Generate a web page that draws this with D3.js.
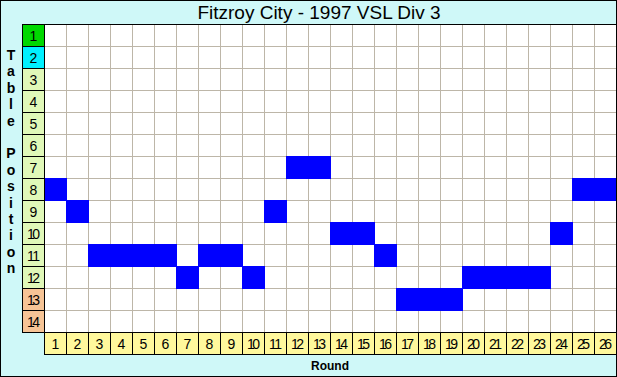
<!DOCTYPE html>
<html>
<head>
<meta charset="utf-8">
<script src="https://cdn.jsdelivr.net/npm/d3@7"></script>
<style>
  body { margin: 0; padding: 0; background: #fff; }
  svg { display: block; }
  text { font-family: "Liberation Sans", Arial, sans-serif; }
</style>
</head>
<body>
<div id="chart"></div>
<script>
// Datos del gráfico
const title = "Fitzroy City - 1997 VSL Div 3";
const rounds = d3.range(1, 27);
const positions = d3.range(1, 15);
const ladder = [8, 9, 11, 11, 11, 11, 12, 11, 11, 12, 9, 7, 7, 10, 10, 11, 13, 13, 13, 12, 12, 12, 12, 10, 8, 8];
const sideLabel = "Table Position";
const xLabel = "Round";

// Ctes de visualización
const WIDTH = 617;
const HEIGHT = 377;
const grid = { left: 44, top: 24, right: 616, bottom: 332 };
const cell = 22;

const svg = d3.select("#chart")
  .append("svg")
  .attr("width", WIDTH)
  .attr("height", HEIGHT);

// Fondo
svg.append("rect")
  .attr("x", 0.5).attr("y", 0.5)
  .attr("width", WIDTH - 1).attr("height", HEIGHT - 1)
  .attr("fill", "#cff8f8")
  .attr("stroke", "#000");

// Escalas
const xScale = d3.scaleBand().domain(rounds).range([grid.left, grid.right]);
const yScale = d3.scaleBand().domain(positions).range([grid.top, grid.bottom]);

// Área de la grilla
svg.append("rect")
  .attr("x", grid.left).attr("y", grid.top)
  .attr("width", grid.right - grid.left).attr("height", grid.bottom - grid.top)
  .attr("fill", "#fff");

// Líneas de grilla
const gl = svg.append("g").attr("stroke", "#bdb6a8").attr("stroke-width", 1);
gl.selectAll(".v").data(rounds.slice(1)).join("line")
  .attr("x1", d => xScale(d) + 0.5).attr("x2", d => xScale(d) + 0.5)
  .attr("y1", grid.top).attr("y2", grid.bottom);
gl.selectAll(".h").data(positions.slice(1)).join("line")
  .attr("y1", d => yScale(d) + 0.5).attr("y2", d => yScale(d) + 0.5)
  .attr("x1", grid.left).attr("x2", grid.right);

// Celdas de posición
svg.append("g").selectAll("rect")
  .data(ladder)
  .join("rect")
  .attr("x", (d, i) => xScale(rounds[i]))
  .attr("y", d => yScale(d))
  .attr("width", xScale.bandwidth() + 1)
  .attr("height", yScale.bandwidth() + 1)
  .attr("fill", "#0000ff");

// Borde de la grilla
svg.append("path")
  .attr("d", `M${grid.left},${grid.top + 0.5}H${grid.right + 0.5}V${HEIGHT}`)
  .attr("fill", "none").attr("stroke", "#000");

// Etiquetas de posición (izquierda)
const posColor = p => p === 1 ? "#00d800" : p === 2 ? "#00f0ff" : p >= 13 ? "#f6c496" : "#e0f8b8";
const yl = svg.append("g");
yl.selectAll("rect").data(positions).join("rect")
  .attr("x", grid.left - cell + 0.5)
  .attr("y", d => yScale(d) + 0.5)
  .attr("width", cell).attr("height", yScale.bandwidth())
  .attr("fill", posColor)
  .attr("stroke", "#000");
yl.selectAll("text").data(positions).join("text")
  .attr("x", grid.left - cell / 2 + 0.5)
  .attr("y", d => yScale(d) + yScale.bandwidth() / 2 + 5.5)
  .attr("text-anchor", "middle")
  .attr("font-size", "14px")
  .attr("textLength", d => d >= 10 ? 13 : null)
  .text(d => d);

// Etiquetas de ronda (abajo)
const xl = svg.append("g");
xl.selectAll("rect").data(rounds).join("rect")
  .attr("x", d => xScale(d) + 0.5)
  .attr("y", grid.bottom + 0.5)
  .attr("width", xScale.bandwidth()).attr("height", cell)
  .attr("fill", "#fff89c")
  .attr("stroke", "#000");
xl.selectAll("text").data(rounds).join("text")
  .attr("x", d => xScale(d) + xScale.bandwidth() / 2 + 0.5)
  .attr("y", grid.bottom + cell / 2 + 5.5)
  .attr("text-anchor", "middle")
  .attr("font-size", "14px")
  .attr("textLength", d => d >= 10 ? 13 : null)
  .text(d => d);

// Título
svg.append("text")
  .attr("x", 319).attr("y", 19)
  .attr("text-anchor", "middle")
  .attr("font-size", "19px")
  .text(title);

// Título eje X
svg.append("text")
  .attr("x", 330).attr("y", 370)
  .attr("text-anchor", "middle")
  .attr("font-size", "12px")
  .attr("font-weight", "bold")
  .text(xLabel);

// Título eje Y vertical, letra por letra
svg.append("g").selectAll("text")
  .data(sideLabel.split(""))
  .join("text")
  .attr("x", 11)
  .attr("y", (d, i) => 60 + i * 16.4)
  .attr("text-anchor", "middle")
  .attr("font-size", "14px")
  .attr("font-weight", "bold")
  .text(d => d);
</script>
</body>
</html>
